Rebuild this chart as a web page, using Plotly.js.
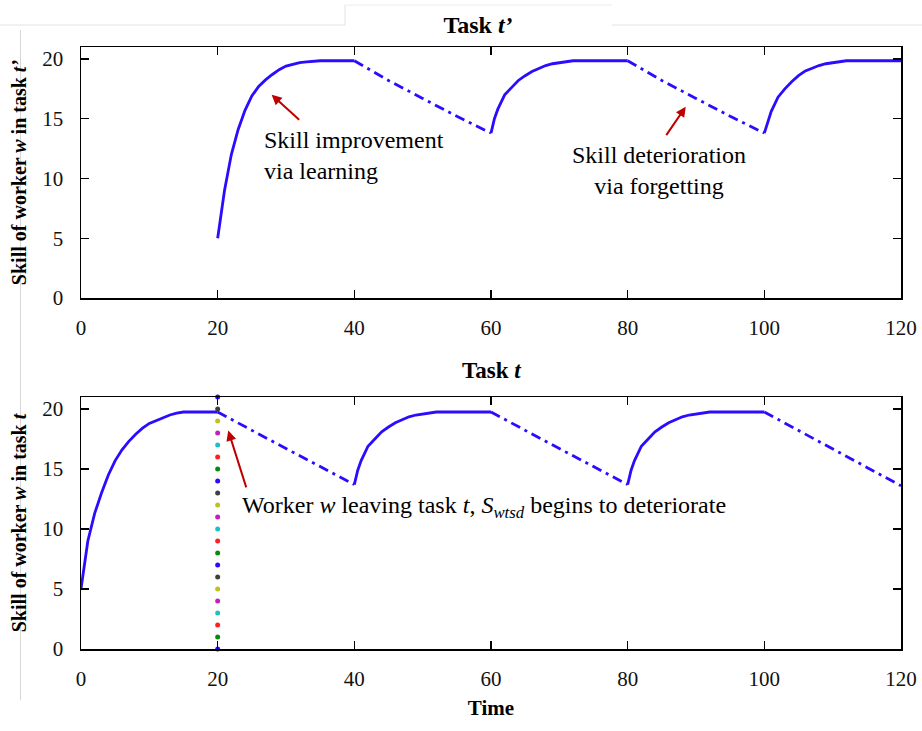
<!DOCTYPE html>
<html>
<head>
<meta charset="utf-8">
<script src="https://cdn.plot.ly/plotly-3.0.1.min.js"></script>
<style>html,body{margin:0;padding:0;background:#fff;}#chart{width:922px;height:731px;}</style>
</head>
<body>
<div id="chart"></div>
<script>
// ---- Data: Task t' (top panel) ----
var topLearnX = [20,20.5,21,22,23,24,25,26,27,28,29,30,31,32,33,34,35,40, null, 60,60.5,61,62,63,64,65,66,67,68,69,70,71,72,80, null, 100,100.5,101,102,103,104,105,106,107,108,109,110,111,112,120];
var topLearnY = [5,7.0,9.0,12.0,14.1,15.7,16.9,17.7,18.25,18.7,19.1,19.4,19.55,19.7,19.75,19.8,19.85,19.85, null, 13.8,15.0,15.8,17.0,17.6,18.2,18.6,18.95,19.2,19.45,19.6,19.7,19.8,19.85,19.85, null, 13.8,14.8,15.6,16.8,17.5,18.1,18.6,19.0,19.25,19.45,19.6,19.7,19.8,19.85,19.85];
var topForgetX = [40,45,50,55,60, null, 80,85,90,95,100];
var topForgetY = [19.85,18.2,16.7,15.2,13.8, null, 19.85,18.2,16.7,15.2,13.8];

// ---- Data: Task t (bottom panel) ----
var botLearnX = [0,0.5,1,2,3,4,5,6,7,8,9,10,11,12,13,14,15,20, null, 40,40.5,41,42,43,44,45,46,47,48,49,50,51,52,60, null, 80,80.5,81,82,83,84,85,86,87,88,89,90,91,92,100];
var botLearnY = [5,7.2,9.0,11.3,13.0,14.5,15.7,16.6,17.3,17.9,18.4,18.8,19.05,19.3,19.5,19.65,19.75,19.75, null, 13.7,14.9,15.7,16.9,17.5,18.1,18.5,18.85,19.1,19.35,19.5,19.6,19.7,19.75,19.75, null, 13.7,14.9,15.7,16.9,17.5,18.1,18.5,18.85,19.1,19.35,19.5,19.6,19.7,19.75,19.75];
var botForgetX = [20,25,30,35,40, null, 60,65,70,75,80, null, 100,105,110,115,120];
var botForgetY = [19.75,18.2,16.7,15.2,13.7, null, 19.75,18.2,16.7,15.2,13.7, null, 19.75,18.2,16.7,15.1,13.6];

// Colored dotted marker at the moment the worker leaves task t
var leaveX = 20;
var dotY = [0,1,2,3,4,5,6,7,8,9,10,11,12,13,14,15,16,17,18,19,20,21];
var dotPalette = ['#2a0cff','#0a8a0a','#ff2020','#20c0c0','#c020c0','#c0c020','#404040'];

// Ticks
var xTicks = [0,20,40,60,80,100,120];
var yTicks = [0,5,10,15,20];

var blue = '#2a0cff';
var serif = 'Liberation Serif, Times New Roman, serif';
var dashDot = '10px,5px,3px,5px';

var dotColors = dotY.map(function(v, i){ return dotPalette[i % dotPalette.length]; });

var traces = [
  {x: topLearnX, y: topLearnY, xaxis:'x', yaxis:'y', mode:'lines', line:{color:blue, width:2.8}, hoverinfo:'skip', showlegend:false},
  {x: topForgetX, y: topForgetY, xaxis:'x', yaxis:'y', mode:'lines', line:{color:blue, width:2.8, dash:dashDot}, hoverinfo:'skip', showlegend:false},
  {x: botLearnX, y: botLearnY, xaxis:'x2', yaxis:'y2', mode:'lines', line:{color:blue, width:2.8}, hoverinfo:'skip', showlegend:false},
  {x: botForgetX, y: botForgetY, xaxis:'x2', yaxis:'y2', mode:'lines', line:{color:blue, width:2.8, dash:dashDot}, hoverinfo:'skip', showlegend:false},
  {x: dotY.map(function(){return leaveX;}), y: dotY, xaxis:'x2', yaxis:'y2', mode:'markers', marker:{color:dotColors, size:5}, cliponaxis:false, hoverinfo:'skip', showlegend:false}
];

function xAxis(anchor, extra){
  var a = {
    anchor: anchor, domain:[0,1], range:[0,120], tickvals:xTicks, ticks:'inside', ticklen:8, tickwidth:1.2,
    tickcolor:'#000', showline:true, linecolor:'#000', linewidth:1.5, mirror:'ticks', showgrid:false, zeroline:false,
    tickfont:{family:serif, size:21, color:'#111'}, ticklabelstandoff:10
  };
  for (var k in extra) a[k] = extra[k];
  return a;
}
function yAxis(anchor, domain, titleText){
  return {
    anchor: anchor, domain: domain, range:[0,21], tickvals:yTicks, ticks:'inside', ticklen:8, tickwidth:1.2,
    tickcolor:'#000', showline:true, linecolor:'#000', linewidth:1.5, mirror:'ticks', showgrid:false, zeroline:false,
    tickfont:{family:serif, size:21, color:'#111'}, ticklabelstandoff:12,
    title:{text:titleText, font:{family:serif, size:20, color:'#000'}, standoff:10}
  };
}

var arrowColor = '#c00000';
var annFont = {family:serif, size:24, color:'#000'};
var layout = {
  width:922, height:731,
  margin:{l:81, r:21, t:47, b:82},
  paper_bgcolor:'#fff', plot_bgcolor:'#fff',
  title:{text:'<b>Task <i>t’</i></b>', font:{family:serif, size:24, color:'#000'}, x:(478-81)/820, xref:'paper', xanchor:'center', y:0.967, yanchor:'middle'},
  xaxis: xAxis('y', {}),
  yaxis: yAxis('x', [0.583,1], '<b>Skill of worker <i>w</i> in task <i>t’</i></b>'),
  xaxis2: xAxis('y2', {title:{text:'<b>Time</b>', font:{family:serif, size:21, color:'#000'}, standoff:10}}),
  yaxis2: yAxis('x2', [0,0.4186], '<b>Skill of worker <i>w</i> in task <i>t</i></b>'),
  annotations:[
    {xref:'paper', yref:'paper', x:0.5, y:0.4186, yshift:27, text:'<b>Task <i>t</i></b>', showarrow:false, font:{family:serif, size:23, color:'#000'}, xanchor:'center', yanchor:'middle'},
    // arrows
    {xref:'x', yref:'y', axref:'x', ayref:'y', x:27.9, y:17.0, ax:32.15, ay:14.8, text:'', showarrow:true, arrowcolor:arrowColor, arrowwidth:2, arrowhead:2, arrowsize:1},
    {xref:'x', yref:'y', axref:'x', ayref:'y', x:88.5, y:16.0, ax:85.5, ay:13.5, text:'', showarrow:true, arrowcolor:arrowColor, arrowwidth:2, arrowhead:2, arrowsize:1},
    {xref:'x2', yref:'y2', axref:'x2', ayref:'y2', x:21.55, y:18.2, ax:24.25, ay:13.34, text:'', showarrow:true, arrowcolor:arrowColor, arrowwidth:2, arrowhead:2, arrowsize:1},
    // texts
    {xref:'x', yref:'y', x:26.5, y:11.9, text:'Skill improvement<br>via learning', showarrow:false, align:'left', xanchor:'left', yanchor:'middle', font:annFont},
    {xref:'x', yref:'y', x:84.6, y:10.7, text:'Skill deterioration<br>via forgetting', showarrow:false, align:'center', xanchor:'center', yanchor:'middle', font:annFont},
    {xref:'x2', yref:'y2', x:23.3, y:11.8, text:'Worker <i>w</i> leaving task <i>t</i>, <i>S<sub>wtsd</sub></i> begins to deteriorate', showarrow:false, align:'left', xanchor:'left', yanchor:'middle', font:annFont}
  ],
  shapes:[
    // faint scan artefacts around the top title and along the left edge
    {type:'line', xref:'paper', yref:'paper', x0:(0-81)/820, x1:(345-81)/820, y0:(649-25)/602, y1:(649-25)/602, line:{color:'#e2e2e2', width:1}},
    {type:'line', xref:'paper', yref:'paper', x0:(345-81)/820, x1:(345-81)/820, y0:(649-5)/602, y1:(649-25)/602, line:{color:'#e2e2e2', width:1}},
    {type:'line', xref:'paper', yref:'paper', x0:(345-81)/820, x1:(612-81)/820, y0:(649-5)/602, y1:(649-5)/602, line:{color:'#ececec', width:1}},
    {type:'line', xref:'paper', yref:'paper', x0:(612-81)/820, x1:(922-81)/820, y0:(649-25)/602, y1:(649-25)/602, line:{color:'#e2e2e2', width:1}},
    {type:'line', xref:'paper', yref:'paper', x0:(20.5-81)/820, x1:(20.5-81)/820, y0:(649-30)/602, y1:(649-700)/602, line:{color:'#d6d6d6', width:1}}
  ]
};

Plotly.newPlot('chart', traces, layout, {staticPlot:true, displayModeBar:false});
</script>
</body>
</html>
